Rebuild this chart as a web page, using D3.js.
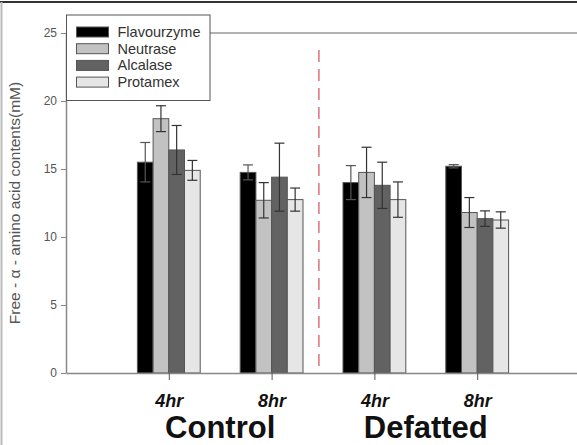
<!DOCTYPE html>
<html>
<head>
<meta charset="utf-8">
<script src="https://cdn.jsdelivr.net/npm/d3@7"></script>
<style>
  body { margin: 0; background: #fff; }
  svg { display: block; font-family: Arial, "Liberation Sans", sans-serif; }
</style>
</head>
<body>
<svg id="chart" width="577" height="445"></svg>
<script>
// data
var series = ["Flavourzyme", "Neutrase", "Alcalase", "Protamex"];
var colors = ["#000000", "#c2c2c2", "#626262", "#e6e6e6"];
var tickLabels = ["4hr", "8hr", "4hr", "8hr"];
var groupLabels = ["Control", "Defatted"];
var flavourzyme = [15.5, 14.75, 14.0, 15.2];
var neutrase    = [18.7, 12.7, 14.75, 11.8];
var alcalase    = [16.4, 14.4, 13.8, 11.35];
var protamex    = [14.9, 12.75, 12.75, 11.25];
var errFlav = [1.45, 0.55, 1.25, 0.12];
var errNeut = [0.95, 1.3, 1.85, 1.1];
var errAlca = [1.8, 2.5, 1.7, 0.57];
var errProt = [0.73, 0.85, 1.3, 0.6];
var yTicks = [0, 5, 10, 15, 20, 25];
var dividerPos = 2.46;

var values = [flavourzyme, neutrase, alcalase, protamex];
var errors = [errFlav, errNeut, errAlca, errProt];

var data = [];
tickLabels.forEach(function(t, i) {
  series.forEach(function(s, j) {
    data.push({ pos: i + 1, series: s, idx: j, value: values[j][i], err: errors[j][i] });
  });
});

var svg = d3.select("#chart");

// picture border
svg.append("line").attr("x1", 0).attr("x2", 577).attr("y1", 2).attr("y2", 2)
  .attr("stroke", "#333").attr("stroke-width", 2);
svg.append("line").attr("x1", 1.5).attr("x2", 1.5).attr("y1", 2).attr("y2", 445)
  .attr("stroke", "#bbb").attr("stroke-width", 2);

var x = d3.scaleLinear().domain([0, 5]).range([66, 580]);
var y = d3.scaleLinear().domain([0, 25]).range([373, 33]);
var x1 = d3.scaleBand().domain(series).range([-31.4, 31.4]);

// top frame line
svg.append("line")
  .attr("x1", x(0)).attr("x2", x(5))
  .attr("y1", y(25)).attr("y2", y(25))
  .attr("stroke", "#999").attr("stroke-width", 1.5);

// y axis
var yAxis = svg.append("g")
  .attr("transform", "translate(" + x(0) + ",0)")
  .call(d3.axisLeft(y).tickValues(yTicks).tickSize(5).tickSizeOuter(0).tickPadding(4));
yAxis.select(".domain").attr("stroke", "#888").attr("stroke-width", 1.5);
yAxis.selectAll(".tick line").attr("stroke", "#888");
yAxis.selectAll("text").attr("font-size", "12px").attr("fill", "#555")
  .attr("font-family", "Arial, 'Liberation Sans', sans-serif");

// divider
svg.append("line")
  .attr("x1", x(dividerPos)).attr("x2", x(dividerPos))
  .attr("y1", 50).attr("y2", y(0))
  .attr("stroke", "#e27078").attr("stroke-width", 1.5)
  .attr("stroke-dasharray", "12,7");

// bars
svg.selectAll(".bar")
  .data(data)
  .enter()
  .append("rect")
  .attr("class", "bar")
  .attr("x", function(d) { return x(d.pos) + x1(d.series); })
  .attr("y", function(d) { return y(d.value); })
  .attr("width", x1.bandwidth())
  .attr("height", function(d) { return y(0) - y(d.value); })
  .attr("fill", function(d) { return colors[d.idx]; })
  .attr("stroke", "#555")
  .attr("stroke-width", 1);

// error bars
var eb = svg.selectAll(".err")
  .data(data)
  .enter()
  .append("g")
  .attr("class", "err")
  .attr("stroke", function(d) { return d.idx == 0 ? "#555" : "#333"; })
  .attr("stroke-width", 1.2);
function cx(d) { return x(d.pos) + x1(d.series) + x1.bandwidth() / 2; }
eb.append("line")
  .attr("x1", cx).attr("x2", cx)
  .attr("y1", function(d) { return y(d.value + d.err); })
  .attr("y2", function(d) { return y(d.value - d.err); });
eb.append("line")
  .attr("x1", function(d) { return cx(d) - 5; }).attr("x2", function(d) { return cx(d) + 5; })
  .attr("y1", function(d) { return y(d.value + d.err); })
  .attr("y2", function(d) { return y(d.value + d.err); });
eb.append("line")
  .attr("x1", function(d) { return cx(d) - 5; }).attr("x2", function(d) { return cx(d) + 5; })
  .attr("y1", function(d) { return y(d.value - d.err); })
  .attr("y2", function(d) { return y(d.value - d.err); });

// x axis
var xAxis = svg.append("g")
  .attr("transform", "translate(0," + y(0) + ")")
  .call(d3.axisBottom(x).tickValues([1, 2, 3, 4]).tickSize(7).tickSizeOuter(0).tickPadding(14)
    .tickFormat(function(d) { return tickLabels[d - 1]; }));
xAxis.select(".domain").attr("stroke", "#888").attr("stroke-width", 1.5);
xAxis.selectAll(".tick line").attr("stroke", "#555");
xAxis.selectAll("text")
  .attr("font-size", "18px").attr("font-weight", "bold").attr("font-style", "italic")
  .attr("fill", "#111")
  .attr("font-family", "Arial, 'Liberation Sans', sans-serif");

// group labels
svg.selectAll(".grp")
  .data(groupLabels)
  .enter()
  .append("text")
  .attr("class", "grp")
  .attr("x", function(d, i) { return x(1.5 + i * 2); })
  .attr("y", 438)
  .attr("text-anchor", "middle")
  .attr("font-size", "31px")
  .attr("font-weight", "bold")
  .attr("fill", "#111")
  .text(function(d) { return d; });

// y label
svg.append("text")
  .attr("transform", "translate(20," + y(12.5) + ") rotate(-90)")
  .attr("text-anchor", "middle")
  .attr("font-size", "15.5px")
  .attr("fill", "#555")
  .text("Free - \u03b1 - amino acid contents(mM)");

// legend
var legend = svg.append("g").attr("transform", "translate(66.5,15)");
legend.append("rect")
  .attr("width", 143.5).attr("height", 85.5)
  .attr("fill", "#fff").attr("stroke", "#555").attr("stroke-width", 1);
var items = legend.selectAll(".item")
  .data(series)
  .enter()
  .append("g")
  .attr("transform", function(d, i) { return "translate(10," + (12 + i * 16.7) + ")"; });
items.append("rect")
  .attr("width", 32).attr("height", 10)
  .attr("fill", function(d, i) { return colors[i]; })
  .attr("stroke", "#555");
items.append("text")
  .attr("x", 41).attr("y", 10)
  .attr("font-size", "14.5px")
  .attr("fill", "#333")
  .text(function(d) { return d; });
</script>
</body>
</html>
